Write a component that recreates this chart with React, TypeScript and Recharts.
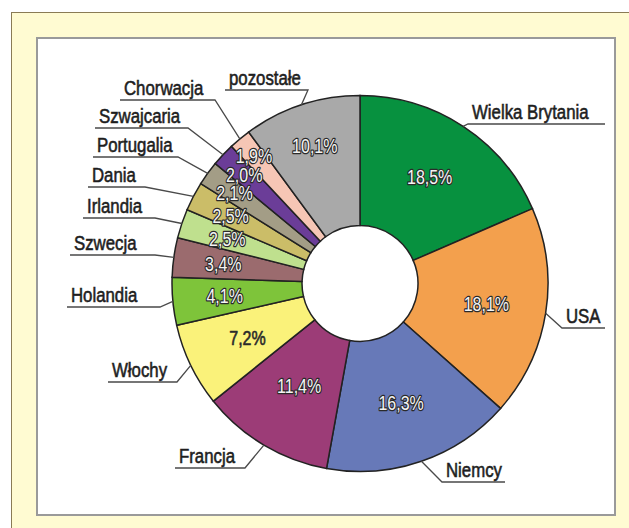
import React from "react";
import { Cell, Pie, PieChart } from "recharts";

const countries = [
  "Wielka Brytania",
  "USA",
  "Niemcy",
  "Francja",
  "Włochy",
  "Holandia",
  "Szwecja",
  "Irlandia",
  "Dania",
  "Portugalia",
  "Szwajcaria",
  "Chorwacja",
  "pozostałe",
];

const shares = [18.5, 18.1, 16.3, 11.4, 7.2, 4.1, 3.4, 2.5, 2.5, 2.1, 2.0, 1.9, 10.1];

const colors = [
  "#07913f",
  "#f3a04d",
  "#6779b8",
  "#9c3c77",
  "#faf27a",
  "#7ec43a",
  "#9b6b6e",
  "#bfe08e",
  "#cbbd68",
  "#a39d86",
  "#6b3d98",
  "#f6c6b5",
  "#a9a9a9",
];

// distance of the percent text from the centre
const pctRadius = [127, 128, 126, 119, 125, 136, 138, 140, 146, 155, 159, 166, 145];

// leader elbow (relative to centre) and far end of the underline
const elbow: [number, number][] = [
  [108, -159.5],
  [202, 44.5],
  [82, 198.5],
  [-115, 184.5],
  [-183, 98.5],
  [-200, 23.5],
  [-205, -28.5],
  [-205, -65.5],
  [-215, -96.5],
  [-182, -126.5],
  [-172, -155.5],
  [-145, -183.5],
  [-52, -193.5],
];
const underlineEnd = [245, 245, 145, -185, -252, -293, -290, -277, -272, -267, -265, -240, -135];

const data = countries.map((name, i) => ({ name, value: shares[i] }));

const RAD = Math.PI / 180;
const FONT = "'Liberation Sans', Arial, sans-serif";
const SQUEEZE = 0.8;

function Narrow({ x, y, anchor, size, children, ...rest }: any) {
  return (
    <text
      transform={`translate(${x},${y}) scale(${SQUEEZE},1)`}
      x={0}
      y={0}
      fontFamily={FONT}
      fontSize={size}
      textAnchor={anchor}
      {...rest}
    >
      {children}
    </text>
  );
}

function renderLabel(props: any) {
  const { cx, cy, midAngle, outerRadius, index } = props;
  const a = -midAngle * RAD;
  const px = cx + pctRadius[index] * Math.cos(a);
  const py = cy + pctRadius[index] * Math.sin(a);
  const ax = cx + outerRadius * Math.cos(a);
  const ay = cy + outerRadius * Math.sin(a);
  const ex = cx + elbow[index][0];
  const ey = cy + elbow[index][1];
  const fx = cx + underlineEnd[index];
  const dark = index === 4;
  const pct = shares[index].toFixed(1).replace(".", ",") + "%";
  return (
    <g key={`lab-${index}`}>
      <path
        d={`M${ax},${ay}L${ex},${ey}L${fx},${ey}`}
        fill="none"
        stroke="#4a4a4a"
        strokeWidth={1.3}
      />
      <Narrow
        x={Math.min(ex, fx) + 4}
        y={ey - 5}
        anchor="start"
        size={21}
        fill="#1e1e1e"
        stroke="#1e1e1e"
        strokeWidth={0.6}
      >
        {countries[index]}
      </Narrow>
      <Narrow
        x={px}
        y={py + 7}
        anchor="middle"
        size={20}
        fill={dark ? "#2a2a2a" : "#f4f4f4"}
        stroke="#2a2a2a"
        strokeWidth={dark ? 0.6 : 2.6}
        paintOrder="stroke"
        strokeLinejoin="round"
      >
        {pct}
      </Narrow>
    </g>
  );
}

export default function App() {
  return (
    <div style={{ position: "absolute", left: 0, top: 0, width: 629, height: 528, background: "#fff" }}>
      <div
        style={{
          position: "absolute",
          left: 11,
          top: 12,
          width: 640,
          height: 540,
          background: "#fffbd2",
          border: "1.5px solid #8a7b55",
        }}
      />
      <div
        style={{
          position: "absolute",
          left: 36,
          top: 37,
          width: 576,
          height: 475,
          background: "#fff",
          border: "2px solid #9a9a9a",
        }}
      />
      <div style={{ position: "absolute", left: 0, top: 0 }}>
        <PieChart width={629} height={528}>
          <Pie
            data={data}
            dataKey="value"
            nameKey="name"
            cx={355}
            cy={278.5}
            innerRadius={58}
            outerRadius={188}
            startAngle={90}
            endAngle={-270}
            stroke="#222"
            strokeWidth={1.5}
            label={renderLabel}
            labelLine={false}
            isAnimationActive={false}
          >
            {data.map((d, i) => (
              <Cell key={d.name} fill={colors[i]} />
            ))}
          </Pie>
        </PieChart>
      </div>
    </div>
  );
}
